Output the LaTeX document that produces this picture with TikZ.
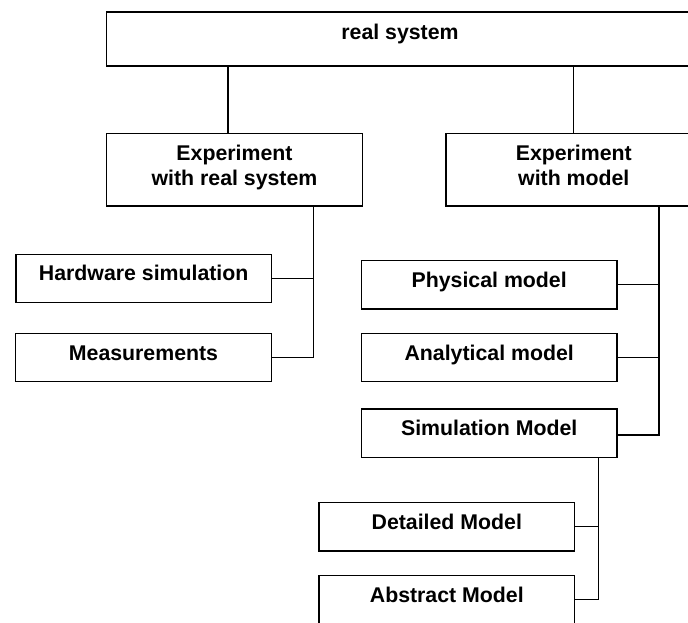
\documentclass[tikz,border=0pt]{standalone}
\usepackage{fontspec}
\setmainfont{Liberation Sans}
\begin{document}
\begin{tikzpicture}[x=1pt,y=-1pt,
  basebox/.style={draw, line width=1.3pt, inner sep=0pt,
    minimum width=255.5pt, minimum height=48.3pt,
    font=\fontsize{21.3}{25}\selectfont\bfseries},
  box/.style={basebox, text height=15pt, text depth=10pt},
  tallbox/.style={basebox, minimum height=72.7pt},
  link/.style={line width=1.3pt}]
\clip (0,0) rectangle (688,622);

% boxes
\node[box, minimum width=586.6pt, minimum height=54pt, text depth=15pt]
  (real) at (400,39) {real system};
\node[tallbox] (expreal) at (234.5,169.7)
  {\raisebox{2pt}[\height][\depth]{\begin{tabular}{@{}c@{}}Experiment\\with real system\end{tabular}}};
\node[tallbox] (expmodel) at (573.8,169.7)
  {\raisebox{2pt}[\height][\depth]{\begin{tabular}{@{}c@{}}Experiment\\with model\end{tabular}}};
\node[box] (hw)   at (143.7,278.3) {Hardware simulation};
\node[box] (meas) at (143.5,357.5) {Measurements};
\node[box] (phys) at (489.2,284.8) {Physical model};
\node[box] (ana)  at (489.2,357.5) {Analytical model};
\node[box] (sim)  at (489.2,433.2) {Simulation Model};
\node[box] (det)  at (446.8,526.8) {Detailed Model};
\node[box] (abs)  at (446.8,599.8) {Abstract Model};

% real system to the two kinds of experiment
\draw[link] ([xshift=-6.5pt]expreal.north) -- ([xshift=-6.5pt]expreal.north |- real.south);
\draw[link] (expmodel.north) -- (expmodel.north |- real.south);

% experiment with the real system
\coordinate (rbus) at ([xshift=78.8pt]expreal.south);
\draw[link] (rbus) |- (meas.east);
\draw[link] (hw.east) -- (hw.east -| rbus);

% experiment with a model
\coordinate (mbus) at ([xshift=85.2pt]expmodel.south);
\draw[link] (mbus) |- ([yshift=-1.8pt]sim.east);
\draw[link] (phys.east) -- (phys.east -| mbus);
\draw[link] (ana.east) -- (ana.east -| mbus);

% kinds of simulation model
\coordinate (sbus) at ([xshift=109.5pt]sim.south);
\draw[link] (sbus) |- (abs.east);
\draw[link] (det.east) -- (det.east -| sbus);
\end{tikzpicture}
\end{document}
